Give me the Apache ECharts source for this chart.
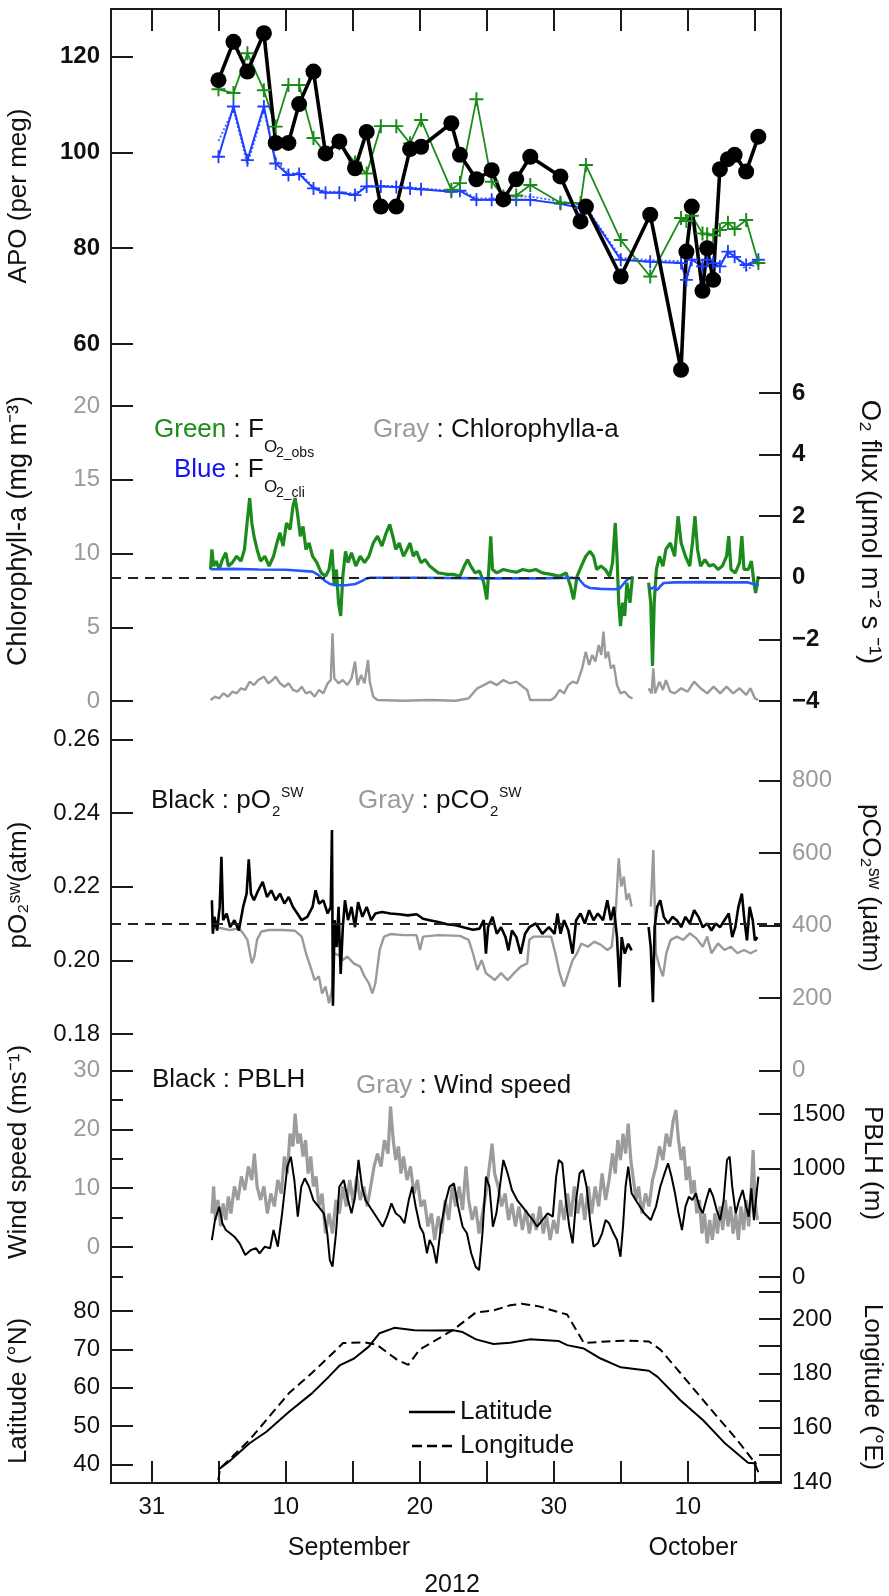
<!DOCTYPE html>
<html>
<head>
<meta charset="utf-8">
<title>APO, O2 flux and ship track 2012</title>
<script src="https://cdn.jsdelivr.net/npm/echarts@6/dist/echarts.min.js"></script>
<style>
html, body { margin: 0; padding: 0; background: #fff; }
#main { width: 889px; height: 1596px; }
</style>
</head>
<body>
<div id="main"></div>
<script>
// x = days counted from 31 August 2012 (31 Aug = 0, 10 Sep = 10, 10 Oct = 40)
var xTickDays = [0, 5, 10, 15, 20, 25, 30, 35, 40, 45];
var xLabelDays = [0, 10, 20, 30, 40];
var xLabelText = ['31', '10', '20', '30', '10'];

// APO (per meg): observed (black), from F_O2_obs (green), from F_O2_cli (blue)
var apoDays = [4.98, 6.1, 7.14, 8.37, 9.25, 10.2, 11.0, 12.07, 12.97, 14.0, 15.17, 16.04, 17.1, 18.25, 19.28, 20.1,
  22.36, 23.0, 24.23, 25.37, 26.24, 27.2, 28.25, 30.5, 32.0, 32.4, 35.0, 37.2, 39.5, 39.9, 40.3, 41.1, 41.45, 41.9,
  42.4, 43.0, 43.5, 44.36, 45.27];
var apoObs = [115.1, 123.1, 116.9, 124.9, 102.0, 102.0, 110.1, 116.9, 99.8, 102.3, 96.7, 104.3, 88.7, 88.7, 100.7, 101.2,
  106.1, 99.5, 94.4, 96.3, 90.2, 94.4, 99.1, 95.0, 85.6, 88.7, 74.1, 87.0, 54.6, 79.3, 88.7, 71.1, 80.0, 73.4,
  96.5, 98.6, 99.5, 96.0, 103.3];
var apoFobs = [113.2, 112.4, 120.7, 113.0, 105.4, 114.1, 114.1, 103.0, 99.8, 101.9, 97.9, 95.6, 105.5, 105.5, 101.9, 106.8,
  92.2, 93.6, 111.1, 93.9, 90.8, 91.0, 93.2, 89.5, 89.4, 97.4, 81.7, 74.1, 86.3, 85.7, 86.8, 83.1, 82.9, 82.7,
  83.8, 85.3, 84.0, 85.9, 76.9];
var apoFcli = [99.1, 109.6, 98.4, 109.6, 97.7, 95.3, 95.5, 92.5, 91.6, 91.6, 91.1, 92.9, 92.9, 92.8, 92.5, 92.3,
  91.8, 92.0, 90.1, 90.1, 90.2, 90.1, 90.1, 89.3, 88.4, 88.4, 77.6, 77.2, 76.9, 73.4, 77.6, 76.2, 77.6, 76.9,
  76.2, 79.3, 78.2, 76.5, 77.6];
var apoFcliDot = [102.4, 109.0, 97.5, 109.0, 98.5, 95.5, 95.8, 92.8, 91.8, 91.8, 91.4, 93.0, 93.0, 93.0, 92.7, 92.5,
  92.0, 92.2, 90.4, 90.4, 90.6, 90.8, 90.8, 89.8, 89.0, 88.6, 78.0, 77.5, 77.3, 73.0, 77.9, 76.6, 77.2, 75.8,
  76.6, 79.0, 78.6, 75.4, 77.0];

// O2 flux (umol m-2 s-1) [day, value]
var fluxObs = [[4.39,0.27],[4.49,0.92],[4.62,0.38],[4.81,0.54],[5.04,0.27],[5.27,0.59],[5.53,0.81],[5.72,0.38],
  [6.01,0.49],[6.34,0.70],[6.66,0.54],[6.92,0.92],[7.14,1.89],[7.31,2.59],[7.47,1.78],[7.63,1.35],[7.86,0.92],
  [8.12,0.54],[8.44,0.70],[8.76,0.38],[9.09,0.70],[9.34,1.13],[9.57,1.46],[9.80,1.03],[10.06,1.78],[10.32,1.57],
  [10.54,2.32],[10.70,2.59],[10.87,2.11],[11.09,1.35],[11.29,1.67],[11.51,0.92],[11.74,1.13],[12.0,0.70],
  [12.32,0.49],[12.65,0.16],[12.97,0.05],[13.23,0.27],[13.45,0.92],[13.62,-0.27],[13.78,0.27],[13.94,-0.81],
  [14.1,-1.24],[14.26,0.05],[14.46,0.86],[14.65,0.49],[14.91,0.81],[15.23,0.38],[15.56,0.70],[15.88,0.49],
  [16.21,0.70],[16.53,1.13],[16.85,1.35],[17.18,1.03],[17.5,1.46],[17.76,1.73],[17.99,1.35],[18.21,0.92],
  [18.47,1.13],[18.79,0.70],[19.05,0.92],[19.28,1.13],[19.51,0.70],[19.76,0.86],[20.09,0.49],[20.41,0.59],
  [20.74,0.38],[21.06,0.27],[21.38,0.16],[21.71,0.14],[22.03,0.11],[22.52,0.11],[23.0,0.05],[23.32,0.38],
  [23.58,0.59],[23.81,0.38],[24.13,0.16],[24.46,0.22],[24.78,-0.16],[25.01,-0.70],[25.17,0.38],[25.3,1.35],
  [25.43,0.27],[25.75,0.16],[26.24,0.27],[26.72,0.22],[27.21,0.18],[27.69,0.27],[28.18,0.22],[28.66,0.27],
  [29.15,0.16],[29.8,0.11],[30.44,0.05],[30.93,0.16],[31.25,-0.27],[31.48,-0.70],[31.74,0.05],[32.06,0.38],
  [32.39,0.70],[32.71,0.86],[32.97,0.70],[33.2,0.27],[33.52,0.38],[33.84,0.27],[34.17,0.05],[34.39,0.49],
  [34.59,1.78],[34.72,0.70],[34.85,-0.81],[34.98,-1.57],[35.14,-0.81],[35.3,-1.24],[35.46,-0.16],[35.69,-0.81],
  [35.88,0.05],[36.5,null],[37.08,-0.16],[37.24,-0.81],[37.37,-2.86],[37.5,-0.81],[37.66,0.27],[37.89,0.70],
  [38.15,0.38],[38.37,0.92],[38.7,1.13],[39.02,0.70],[39.28,2.0],[39.51,1.13],[39.83,0.70],[40.15,0.38],
  [40.35,1.13],[40.54,2.0],[40.73,0.92],[40.96,0.38],[41.28,0.59],[41.61,0.38],[41.93,0.43],[42.26,0.27],
  [42.58,0.38],[42.9,0.70],[43.06,1.35],[43.23,0.27],[43.55,0.16],[43.87,0.49],[44.04,1.35],[44.2,0.27],
  [44.52,0.27],[44.75,0.54],[44.94,-0.16],[45.07,-0.49],[45.27,0.05]];
var fluxCli = [[4.39,0.28],[6.0,0.29],[8.0,0.27],[10.0,0.26],[12.0,0.2],[12.4,0.1],[12.65,0.0],[13.0,-0.12],
  [13.3,-0.2],[13.8,-0.24],[14.5,-0.24],[15.2,-0.2],[15.7,-0.1],[16.0,-0.03],[16.3,0.0],[20.0,0.0],[25.0,-0.02],
  [29.0,-0.02],[31.4,0.0],[31.9,-0.05],[32.3,-0.25],[32.7,-0.33],[33.5,-0.36],[34.5,-0.37],[34.9,-0.36],
  [35.2,-0.2],[35.5,-0.05],[35.8,0.0],[36.5,null],[37.1,-0.3],[37.3,-0.35],[37.5,-0.3],[37.7,-0.4],[37.9,-0.3],
  [38.2,-0.17],[39.0,-0.15],[41.0,-0.14],[43.0,-0.15],[44.5,-0.15],[45.3,-0.25]];
var fluxRef = [0];

// Chlorophyll-a (mg m-3)
var chlA = [[4.39,0.07],[4.72,0.29],[5.04,0.18],[5.36,0.52],[5.69,0.29],[6.01,0.63],[6.34,0.52],[6.66,0.86],
  [6.98,0.75],[7.31,1.31],[7.63,1.08],[7.95,1.42],[8.37,1.65],[8.7,1.20],[9.02,1.42],[9.25,1.65],[9.57,1.20],
  [9.9,0.97],[10.22,1.20],[10.54,0.75],[10.87,0.63],[11.19,0.97],[11.51,0.52],[11.84,0.63],[12.16,0.29],
  [12.48,0.75],[12.81,0.52],[13.13,1.20],[13.36,1.42],[13.49,4.59],[13.62,1.54],[13.94,1.20],[14.26,1.42],
  [14.59,1.08],[14.91,1.54],[15.17,2.67],[15.36,1.08],[15.62,1.76],[15.88,1.20],[16.14,2.78],[16.27,1.31],
  [16.53,0.29],[16.85,0.07],[18.79,0.02],[20.74,0.07],[22.68,0.02],[23.65,0.18],[23.97,0.52],[24.3,0.86],
  [24.78,1.08],[25.27,1.31],[25.75,1.08],[26.24,1.42],[26.72,1.20],[27.21,1.31],[27.69,0.97],[28.02,0.75],
  [28.24,0.07],[29.8,0.07],[30.12,0.29],[30.44,0.75],[30.77,0.52],[31.09,1.08],[31.41,1.31],[31.74,1.20],
  [32.12,2.21],[32.39,3.34],[32.64,2.44],[32.87,3.12],[33.1,2.67],[33.36,3.80],[33.55,3.12],[33.71,4.70],
  [33.87,2.89],[34.07,3.34],[34.26,2.21],[34.49,2.44],[34.72,1.08],[34.98,0.52],[35.3,0.63],[35.62,0.29],
  [35.88,0.18],[36.5,null],[37.08,0.86],[37.3,0.52],[37.43,2.21],[37.56,0.52],[37.89,1.31],[38.15,0.75],
  [38.37,1.42],[38.7,0.63],[39.02,0.52],[39.51,0.86],[39.99,0.63],[40.48,1.31],[40.96,0.86],[41.45,0.52],
  [41.93,0.97],[42.42,0.52],[42.9,0.97],[43.39,0.52],[43.87,0.86],[44.36,0.41],[44.68,0.86],[45.01,0.18],
  [45.27,0.07]];

// pO2 seawater (atm) and pCO2 seawater (uatm)
var pO2sw = [[4.49,0.2163],[4.56,0.2072],[4.68,0.2118],[4.88,0.2081],[5.07,0.2145],[5.2,0.2281],[5.33,0.2109],
  [5.59,0.2127],[5.85,0.2090],[6.17,0.2109],[6.5,0.2081],[6.82,0.2145],[7.08,0.2181],[7.24,0.2274],[7.4,0.2181],
  [7.63,0.2163],[7.95,0.2190],[8.28,0.2213],[8.6,0.2172],[8.92,0.2190],[9.25,0.2163],[9.57,0.2181],[9.9,0.2154],
  [10.22,0.2172],[10.54,0.2145],[10.87,0.2127],[11.19,0.2109],[11.61,0.2118],[12.0,0.2145],[12.23,0.2190],
  [12.48,0.2154],[12.81,0.2163],[13.13,0.2127],[13.36,0.2145],[13.45,0.2354],[13.52,0.1877],[13.65,0.2109],
  [13.81,0.2036],[13.94,0.2145],[14.1,0.1963],[14.26,0.2090],[14.42,0.2163],[14.65,0.2109],[14.91,0.2145],
  [15.17,0.2090],[15.4,0.2158],[15.72,0.2118],[16.04,0.2145],[16.37,0.2109],[16.69,0.2127],[17.18,0.2131],
  [17.82,0.2127],[18.47,0.2125],[19.12,0.2122],[19.77,0.2125],[20.25,0.2113],[20.74,0.2109],[21.38,0.2104],
  [22.03,0.2098],[22.68,0.2095],[23.32,0.2089],[23.97,0.2083],[24.46,0.2086],[24.78,0.2109],[24.94,0.2018],
  [25.1,0.2090],[25.43,0.2118],[25.75,0.2072],[26.07,0.2090],[26.4,0.2063],[26.62,0.2027],[26.88,0.2081],
  [27.21,0.2063],[27.53,0.2018],[27.86,0.2072],[28.18,0.2090],[28.66,0.2100],[29.15,0.2072],[29.64,0.2090],
  [30.06,0.2072],[30.28,0.2127],[30.51,0.2072],[30.77,0.2109],[31.09,0.2081],[31.41,0.2018],[31.67,0.2109],
  [32.0,0.2127],[32.32,0.2100],[32.64,0.2136],[32.97,0.2109],[33.29,0.2127],[33.68,0.2109],[34.0,0.2163],
  [34.26,0.2109],[34.49,0.2145],[34.72,0.2063],[34.91,0.1927],[35.07,0.2063],[35.3,0.2018],[35.56,0.2045],
  [35.81,0.2027],[36.5,null],[37.08,0.2090],[37.24,0.2036],[37.4,0.1886],[37.53,0.2090],[37.72,0.2145],
  [37.95,0.2163],[38.21,0.2118],[38.53,0.2100],[38.86,0.2118],[39.18,0.2109],[39.51,0.2090],[39.83,0.2118],
  [40.15,0.2100],[40.48,0.2136],[40.8,0.2118],[41.12,0.2090],[41.45,0.2100],[41.77,0.2081],[42.09,0.2100],
  [42.42,0.2090],[42.74,0.2109],[43.06,0.2127],[43.32,0.2063],[43.55,0.2090],[43.78,0.2145],[44.04,0.2181],
  [44.23,0.2109],[44.42,0.2054],[44.62,0.2145],[44.85,0.2109],[45.01,0.2054],[45.2,0.2063]];
var pO2Ref = [0.2094];
var pCO2sw = [[4.49,397],[5.2,393],[5.85,388],[6.5,393],[6.82,379],[7.14,361],[7.47,296],[7.66,315],[7.86,361],
  [8.18,384],[8.76,388],[9.73,388],[10.7,386],[11.19,370],[11.51,324],[11.84,287],[12.16,250],[12.48,260],
  [12.71,213],[12.97,232],[13.23,186],[13.45,223],[13.62,324],[13.94,319],[14.26,305],[14.59,315],[15.07,296],
  [15.56,287],[15.88,260],[16.21,241],[16.46,213],[16.69,241],[17.01,333],[17.34,370],[17.82,377],[18.79,374],
  [19.76,374],[20.02,333],[20.25,370],[21.38,374],[23.0,372],[23.65,361],[23.97,324],[24.3,278],[24.62,305],
  [24.94,269],[25.27,260],[25.59,250],[26.07,269],[26.56,250],[27.04,269],[27.53,287],[28.02,296],[28.18,361],
  [28.5,370],[29.8,370],[30.12,324],[30.44,269],[30.77,232],[31.09,269],[31.41,305],[31.74,324],[32.06,351],
  [32.55,342],[33.03,356],[33.52,347],[34.0,333],[34.33,342],[34.65,453],[34.85,586],[35.04,508],[35.23,535],
  [35.43,471],[35.62,489],[35.81,453],[36.5,null],[37.24,453],[37.43,609],[37.63,324],[37.89,287],[38.15,260],
  [38.4,324],[38.73,361],[39.18,370],[39.67,361],[40.15,379],[40.64,365],[41.12,342],[41.45,370],[41.77,324],
  [42.26,351],[42.74,333],[43.23,342],[43.71,324],[44.2,333],[44.68,324],[45.17,333]];

// wind speed (m s-1) and PBLH (m)
var windSpeed = [[4.49,5.7],[4.62,10.3],[4.75,4.6],[4.94,8.0],[5.14,3.5],[5.33,7.4],[5.53,4.6],[5.72,8.6],
  [5.91,5.7],[6.17,10.3],[6.43,8.0],[6.69,12.0],[6.95,9.7],[7.21,13.7],[7.47,11.4],[7.66,15.9],[7.86,10.3],
  [8.12,8.0],[8.37,10.3],[8.63,5.7],[8.89,9.1],[9.15,6.9],[9.41,11.4],[9.67,9.1],[9.9,15.4],[10.12,12.5],
  [10.32,19.3],[10.54,17.1],[10.7,22.7],[10.9,17.6],[11.09,19.3],[11.29,15.4],[11.48,18.2],[11.67,12.5],
  [11.87,15.4],[12.06,10.3],[12.26,12.0],[12.48,6.9],[12.71,9.1],[12.97,2.3],[13.23,5.7],[13.49,2.3],[13.75,8.0],
  [14.0,5.7],[14.26,10.3],[14.52,6.9],[14.78,11.4],[15.04,7.4],[15.3,12.0],[15.56,8.0],[15.82,10.3],[16.08,6.9],
  [16.34,10.3],[16.59,13.7],[16.85,15.9],[17.11,13.7],[17.37,18.2],[17.63,15.9],[17.82,23.9],[18.02,18.2],
  [18.21,14.8],[18.41,17.1],[18.6,12.5],[18.79,15.4],[19.05,11.4],[19.31,13.7],[19.57,9.1],[19.83,11.4],
  [20.09,6.9],[20.35,8.0],[20.61,3.5],[20.87,5.7],[21.12,1.2],[21.38,5.2],[21.64,2.3],[21.9,8.0],[22.16,4.6],
  [22.42,10.3],[22.68,6.9],[22.94,10.3],[23.2,6.3],[23.45,13.7],[23.65,8.0],[23.91,4.6],[24.17,6.9],[24.43,2.3],
  [24.68,5.7],[24.94,9.1],[25.2,13.7],[25.4,17.6],[25.59,12.5],[25.85,10.3],[26.11,6.9],[26.37,9.1],[26.63,4.6],
  [26.88,7.4],[27.14,3.5],[27.4,6.9],[27.66,2.9],[27.92,6.3],[28.18,2.3],[28.44,5.7],[28.7,2.9],[28.96,6.9],
  [29.22,2.3],[29.47,5.2],[29.73,1.2],[29.99,4.6],[30.25,2.3],[30.51,8.0],[30.77,4.6],[31.03,9.1],[31.28,5.2],
  [31.54,10.3],[31.8,5.7],[32.06,9.1],[32.32,4.6],[32.58,10.3],[32.84,5.7],[33.09,10.3],[33.35,6.9],[33.61,12.5],
  [33.87,8.0],[34.13,11.4],[34.39,15.9],[34.59,12.5],[34.78,18.2],[34.98,14.8],[35.17,19.3],[35.36,15.9],
  [35.56,21.0],[35.75,14.8],[35.95,11.4],[36.14,8.0],[36.33,10.3],[36.59,5.7],[36.85,9.1],[37.11,6.9],
  [37.37,11.4],[37.63,13.7],[37.89,17.1],[38.15,14.8],[38.4,19.3],[38.66,17.1],[38.92,21.6],[39.12,23.3],
  [39.31,18.2],[39.51,14.8],[39.7,17.1],[39.89,11.4],[40.09,13.7],[40.28,9.1],[40.48,11.4],[40.67,5.7],
  [40.87,8.0],[41.06,2.3],[41.25,5.7],[41.45,0.6],[41.64,4.6],[41.84,1.2],[42.03,5.7],[42.22,2.3],[42.42,6.9],
  [42.61,2.9],[42.81,8.0],[43.0,3.5],[43.19,6.9],[43.39,2.3],[43.58,5.7],[43.78,1.2],[43.97,6.9],[44.17,2.9],
  [44.36,8.0],[44.55,3.5],[44.75,10.3],[44.88,16.5],[45.01,8.0],[45.2,4.6]];
var pblh = [[4.49,340],[4.72,524],[5.04,647],[5.27,494],[5.53,432],[5.85,402],[6.17,371],[6.56,310],[6.98,202],
  [7.4,248],[7.79,264],[8.05,218],[8.44,279],[8.83,264],[9.09,432],[9.41,279],[9.73,586],[10.12,1015],[10.38,1107],
  [10.64,893],[10.9,555],[11.16,831],[11.42,908],[11.74,831],[12.06,708],[12.45,647],[12.84,586],[13.1,402],
  [13.29,156],[13.49,95],[13.75,402],[14.0,831],[14.33,893],[14.65,708],[14.91,586],[15.17,739],[15.43,1077],
  [15.69,831],[15.95,708],[16.27,647],[16.59,586],[16.92,524],[17.24,463],[17.56,555],[17.89,678],[18.21,586],
  [18.54,555],[18.86,494],[19.18,708],[19.44,831],[19.7,647],[20.02,463],[20.28,402],[20.54,218],[20.74,340],
  [21.0,279],[21.25,126],[21.58,463],[21.9,678],[22.22,831],[22.55,862],[22.87,647],[23.2,463],[23.52,402],
  [23.84,218],[24.17,95],[24.43,64],[24.68,402],[24.94,923],[25.2,831],[25.46,463],[25.72,586],[25.98,831],
  [26.24,1077],[26.56,954],[26.88,801],[27.27,708],[27.66,647],[28.05,586],[28.44,524],[28.76,463],[29.15,524],
  [29.54,586],[29.93,555],[30.18,923],[30.38,1077],[30.64,1046],[30.9,708],[31.16,463],[31.41,310],[31.67,708],
  [31.93,954],[32.19,985],[32.45,831],[32.71,524],[32.97,279],[33.29,310],[33.61,402],[33.87,524],[34.13,494],
  [34.46,402],[34.72,340],[34.98,187],[35.17,463],[35.36,831],[35.56,1015],[35.81,770],[36.27,678],[36.75,586],
  [37.24,524],[37.63,647],[37.95,831],[38.27,954],[38.53,1046],[38.79,923],[39.05,770],[39.31,586],[39.57,432],
  [39.83,647],[40.09,739],[40.35,708],[40.61,770],[40.87,647],[41.12,586],[41.38,708],[41.64,816],[41.9,739],
  [42.16,616],[42.42,524],[42.68,708],[42.93,1077],[43.13,1107],[43.32,831],[43.58,586],[43.84,708],[44.1,801],
  [44.36,647],[44.55,555],[44.75,816],[44.94,524],[45.14,770],[45.27,923]];

// ship track: latitude (deg N) and longitude (deg E)
var latTrack = [[4.97,38.6],[5.9,41.1],[7.3,45.5],[8.56,48.5],[10.25,53.7],[11.95,58.5],[13.2,62.8],[14.06,65.9],
  [15.1,67.6],[16.2,70.7],[17.0,74.2],[18.1,75.6],[19.6,75.0],[21.0,74.9],[22.5,75.0],[23.2,74.5],[24.2,72.6],
  [25.5,71.4],[26.75,71.7],[28.2,72.6],[30.35,72.2],[31.0,71.1],[32.25,70.2],[33.5,67.6],[35.0,65.3],[37.1,64.4],
  [37.75,62.8],[39.45,56.7],[41.15,51.5],[42.8,45.4],[44.5,40.4],[45.15,40.2]];
var lonTrack = [[4.97,140.7],[5.1,145.0],[7.3,155.5],[8.98,165.3],[10.25,172.7],[11.95,180.1],[13.64,188.0],
  [14.28,191.1],[15.8,191.4],[16.8,190.5],[18.3,185.0],[19.14,183.1],[20.0,188.7],[21.04,191.7],[22.5,196.0],
  [24.2,202.4],[25.5,203.1],[26.75,205.0],[27.6,205.6],[28.9,204.6],[30.56,202.2],[31.0,201.6],[32.25,191.1],
  [33.95,191.7],[35.2,192.0],[37.1,191.7],[37.96,188.7],[39.45,180.1],[41.56,167.7],[43.68,155.5],[44.95,147.5],
  [45.3,143.2]];

var FONT = '"Liberation Sans", Arial, Helvetica, sans-serif';
var GREEN = '#1b8c1b', BLUE = '#1f3dff', GRAY = '#9a9a9a', INK = '#111';
var X_MIN = -3.04, X_MAX = 46.96, LEFT = 111, WIDTH = 670;
var PLUS = 'path://M4.3,0H5.7V4.3H10V5.7H5.7V10H4.3V5.7H0V4.3H4.3Z';

var grids = [], xAxes = [], yAxes = [];

// outer frame with the shared date axis (ticks inside, top and bottom)
grids.push({
  left: LEFT, width: WIDTH, top: 9, height: 1474, show: true, borderColor: '#1a1a1a', borderWidth: 2,
  containLabel: false, outerBoundsMode: 'none'
});
xAxes.push({
  gridIndex: 0, type: 'value', position: 'bottom', min: X_MIN, max: X_MAX,
  axisLine: { show: false, onZero: false }, splitLine: { show: false },
  axisTick: { inside: true, length: 22, customValues: xTickDays, lineStyle: { color: '#1a1a1a', width: 2 } },
  axisLabel: {
    customValues: xLabelDays, margin: 12, fontSize: 24, color: INK, fontFamily: FONT,
    formatter: function (v) { var i = xLabelDays.indexOf(v); return i >= 0 ? xLabelText[i] : ''; }
  }
});
xAxes.push({
  gridIndex: 0, type: 'value', position: 'top', min: X_MIN, max: X_MAX,
  axisLine: { show: false, onZero: false }, splitLine: { show: false }, axisLabel: { show: false },
  axisTick: { inside: true, length: 22, customValues: xTickDays, lineStyle: { color: '#1a1a1a', width: 2 } }
});
yAxes.push({ gridIndex: 0, type: 'value', show: false, min: 0, max: 1, axisLine: { onZero: false } });

function yOpt(pos, min, max, step, o) {
  return {
    position: pos, min: min, max: max, interval: step,
    axisLine: { show: false, onZero: false }, splitLine: { show: false },
    axisTick: { inside: true, length: o.tick || 22, lineStyle: { color: '#1a1a1a', width: 2 } },
    axisLabel: {
      show: !o.noLabel, margin: 11, fontSize: 24, fontFamily: FONT, color: o.color || INK,
      fontWeight: o.bold ? 'bold' : 'normal', formatter: o.fmt || function (v) { return String(v); }
    }
  };
}

// one grid per y axis, all sharing the same day range
function panel(top, bottom, y) {
  var gi = grids.length;
  grids.push({ left: LEFT, width: WIDTH, top: top, height: bottom - top, containLabel: false, outerBoundsMode: 'none' });
  xAxes.push({ gridIndex: gi, type: 'value', min: X_MIN, max: X_MAX, show: false, axisLine: { onZero: false } });
  y.gridIndex = gi; y.type = 'value';
  yAxes.push(y);
  return { x: xAxes.length - 1, y: yAxes.length - 1 };
}

function minus(v) { return v < 0 ? '\u2212' + Math.abs(v) : String(v); }

var pApo = panel(56.7, 344, yOpt('left', 60, 120, 20, { bold: true }));
var pChl = panel(406, 701, yOpt('left', 0, 20, 5, { color: GRAY }));
var pFlux = panel(393, 701, yOpt('right', -4, 6, 2, { bold: true, fmt: minus }));
var pO2 = panel(739.3, 1034, yOpt('left', 0.18, 0.26, 0.02, { fmt: function (v) { return v.toFixed(2); } }));
var pCo2 = panel(780.7, 1070.7, yOpt('right', 0, 800, 200, { color: GRAY }));
var pWindMinor = panel(1070.7, 1276.4, yOpt('left', -5, 30, 5, { tick: 12, noLabel: true }));
var pWind = panel(1070.7, 1247, yOpt('left', 0, 30, 10, { color: GRAY }));
var pPblh = panel(1114, 1277, yOpt('right', 0, 1500, 500, {}));
var pLat = panel(1311, 1464.3, yOpt('left', 40, 80, 10, {}));
var pLon = panel(1291.7, 1482, yOpt('right', 140, 210, 10, { fmt: function (v) { return v % 20 === 0 ? String(v) : ''; } }));

function line(p, name, data, color, width, extra) {
  var s = {
    type: 'line', name: name, xAxisIndex: p.x, yAxisIndex: p.y, data: data, clip: false,
    symbol: 'none', animation: false, silent: true,
    lineStyle: { color: color, width: width }, itemStyle: { color: color }
  };
  for (var k in extra) s[k] = extra[k];
  return s;
}
function pairs(days, vals) { return days.map(function (d, i) { return [d, vals[i]]; }); }
function refLine(v) {
  return {
    silent: true, symbol: ['none', 'none'], label: { show: false }, animation: false,
    lineStyle: { type: [10, 7], color: '#222', width: 2 }, data: [{ yAxis: v }]
  };
}

var series = [
  line(pApo, 'cli dotted', pairs(apoDays, apoFcliDot), '#4a6bff', 2, { lineStyle: { color: '#4a6bff', width: 2, type: 'dotted' } }),
  line(pApo, 'APO F_O2_cli', pairs(apoDays, apoFcli), BLUE, 2, { symbol: PLUS, symbolSize: 13, showAllSymbol: true }),
  line(pApo, 'APO F_O2_obs', pairs(apoDays, apoFobs), GREEN, 1.8, { symbol: PLUS, symbolSize: 14, showAllSymbol: true }),
  line(pApo, 'APO obs', pairs(apoDays, apoObs), '#000', 3.6, { symbol: 'circle', symbolSize: 16, showAllSymbol: true }),
  line(pChl, 'Chlorophyll-a', chlA, GRAY, 2.4),
  line(pFlux, 'F_O2_obs', fluxObs, GREEN, 3.2, { markLine: refLine(fluxRef[0]) }),
  line(pFlux, 'F_O2_cli', fluxCli, '#2456ff', 2.6),
  line(pCo2, 'pCO2', pCO2sw, GRAY, 2.4),
  line(pO2, 'pO2', pO2sw, '#000', 2.6, { markLine: refLine(pO2Ref[0]) }),
  line(pWind, 'Wind speed', windSpeed, '#9c9c9c', 3.2),
  line(pPblh, 'PBLH', pblh, '#000', 2),
  line(pLat, 'Latitude', latTrack, '#000', 2),
  line(pLon, 'Longitude', lonTrack, '#000', 2, { lineStyle: { color: '#000', width: 2, type: [9, 5] } })
];

function f(size, weight) { return (weight || 'normal') + ' ' + size + 'px ' + FONT; }
function txt(x, y, text, o) {
  o = o || {};
  return {
    type: 'text', x: x, y: y, rotation: o.rot || 0, silent: true,
    style: {
      text: text, fill: o.color || INK, font: f(o.size || 26), rich: o.rich,
      textAlign: o.align || 'left', textVerticalAlign: 'middle', verticalAlign: 'middle'
    }
  };
}
var RICH = {
  g: { fill: GREEN, font: f(26) }, b: { fill: '#1414f0', font: f(26) },
  y: { fill: GRAY, font: f(26) }, k: { fill: INK, font: f(26) }
};
var UP = Math.PI / 2, DOWN = -Math.PI / 2;

var graphics = [
  // axis titles
  txt(19, 196, 'APO (per meg)', { rot: UP, align: 'center' }),
  txt(19, 531, 'Chlorophyll-a (mg m\u207B\u00B3)', { rot: UP, align: 'center', size: 27 }),
  txt(19, 885, 'pO\u2082\u02E2\u02B7(atm)', { rot: UP, align: 'center' }),
  txt(19, 1152, 'Wind speed (ms\u207B\u00B9)', { rot: UP, align: 'center' }),
  txt(19, 1391, 'Latitude (\u00B0N)', { rot: UP, align: 'center' }),
  txt(870, 532, 'O\u2082 flux (\u03BCmol m\u207B\u00B2 s \u207B\u00B9)', { rot: DOWN, align: 'center', size: 27.5 }),
  txt(870, 888, 'pCO\u2082\u02E2\u02B7 (\u03BCatm)', { rot: DOWN, align: 'center' }),
  txt(872, 1163, 'PBLH (m)', { rot: DOWN, align: 'center' }),
  txt(872, 1387, 'Longitude (\u00B0E)', { rot: DOWN, align: 'center' }),
  // panel keys
  txt(154, 430, '{g|Green}{k| : F}', { rich: RICH }),
  txt(264, 447, 'O', { size: 17 }),
  txt(276, 453, '2_obs', { size: 14 }),
  txt(373, 430, '{y|Gray}{k| : Chlorophylla-a}', { rich: RICH }),
  txt(174, 470, '{b|Blue}{k| : F}', { rich: RICH }),
  txt(264, 487, 'O', { size: 17 }),
  txt(276, 493, '2_cli', { size: 14 }),
  txt(151, 801, '{k|Black : pO}', { rich: RICH }),
  txt(272, 812, '2', { size: 15 }),
  txt(281, 793, 'SW', { size: 14 }),
  txt(358, 801, '{y|Gray}{k| : pCO}', { rich: RICH }),
  txt(490, 812, '2', { size: 15 }),
  txt(499, 793, 'SW', { size: 14 }),
  txt(152, 1080, 'Black : PBLH'),
  txt(356, 1086, '{y|Gray}{k| : Wind speed}', { rich: RICH }),
  // month and year under the date axis
  txt(349, 1548, 'September', { align: 'center', size: 25 }),
  txt(693, 1548, 'October', { align: 'center', size: 25 }),
  txt(452, 1585, '2012', { align: 'center', size: 25 })
];

var chart = echarts.init(document.getElementById('main'), null, { renderer: 'canvas' });
chart.setOption({
  animation: false,
  backgroundColor: '#fff',
  grid: grids,
  xAxis: xAxes,
  yAxis: yAxes,
  legend: {
    data: [
      { name: 'Latitude', icon: 'path://M0,0H46V2.4H0Z' },
      { name: 'Longitude', icon: 'path://M0,0H10V2.4H0ZM15,0H25V2.4H15ZM30,0H40V2.4H30Z' }
    ],
    orient: 'vertical', left: 404, top: 1394, itemWidth: 46, itemHeight: 2.4, itemGap: 8, selectedMode: false,
    textStyle: { fontSize: 26, fontFamily: FONT, color: INK }
  },
  series: series,
  graphic: graphics
});
</script>
</body>
</html>
